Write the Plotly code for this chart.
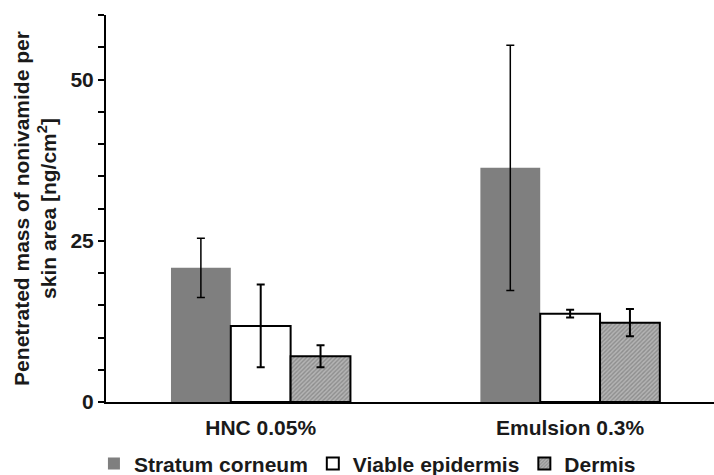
import plotly.graph_objects as go

categories = ["HNC 0.05%", "Emulsion 0.3%"]
stratum = [20.8, 36.3]
stratum_err = [4.6, 19.0]
viable = [11.8, 13.7]
viable_err = [6.4, 0.6]
dermis = [7.1, 12.3]
dermis_err = [1.7, 2.1]

FONT = "Liberation Sans, Arial, sans-serif"
TXT = "#1a1a1a"
FS = 21

fig = go.Figure()
fig.add_trace(go.Bar(
    x=categories, y=stratum, name="Stratum corneum",
    marker=dict(color="#7f7f7f", line=dict(width=0)),
    error_y=dict(type="data", array=stratum_err, color="black", thickness=1.5, width=4),
))
fig.add_trace(go.Bar(
    x=categories, y=viable, name="Viable epidermis",
    marker=dict(color="white", line=dict(color="black", width=2)),
    error_y=dict(type="data", array=viable_err, color="black", thickness=2, width=4),
))
fig.add_trace(go.Bar(
    x=categories, y=dermis, name="Dermis",
    marker=dict(color="#a8a8a8", line=dict(color="black", width=2),
                pattern=dict(shape="/", fgcolor="#666666", bgcolor="#b4b4b4", size=3, solidity=0.45)),
    error_y=dict(type="data", array=dermis_err, color="black", thickness=2, width=4),
))

fig.update_layout(
    width=714, height=475,
    margin=dict(l=106, r=0, t=15, b=73, autoexpand=False),
    paper_bgcolor="white", plot_bgcolor="white",
    barmode="group", bargap=0.42, bargroupgap=0,
    font=dict(family=FONT, color=TXT),
    showlegend=True,
    legend=dict(orientation="h", x=0.43, xanchor="center", y=-0.16, yanchor="middle",
                font=dict(family=FONT, size=FS, color=TXT, weight="bold"),
                itemwidth=30, tracegroupgap=0),
    xaxis=dict(range=[-0.5, 1.465], showline=True, linecolor="black", linewidth=2,
               ticks="", showgrid=False, ticklabelstandoff=6,
               tickfont=dict(family=FONT, size=FS, color=TXT, weight="bold")),
    yaxis=dict(range=[0, 60], dtick=25, tick0=0, showline=True, linecolor="black", linewidth=2,
               ticks="outside", ticklen=6, tickwidth=1.5, tickcolor="black",
               minor=dict(dtick=5, ticks="outside", ticklen=6, tickwidth=1.5, tickcolor="black", showgrid=False),
               showgrid=False, zeroline=False,
               tickfont=dict(family=FONT, size=FS, color=TXT, weight="bold"),
               title=dict(text="Penetrated mass of nonivamide per<br>skin area [ng/cm<sup>2</sup>]",
                          font=dict(family=FONT, size=FS, color=TXT, weight="bold"), standoff=8)),
)

fig.write_html("out.html", config={"displayModeBar": False},
               post_script="document.body.style.margin='0';document.body.style.overflow='hidden';")
